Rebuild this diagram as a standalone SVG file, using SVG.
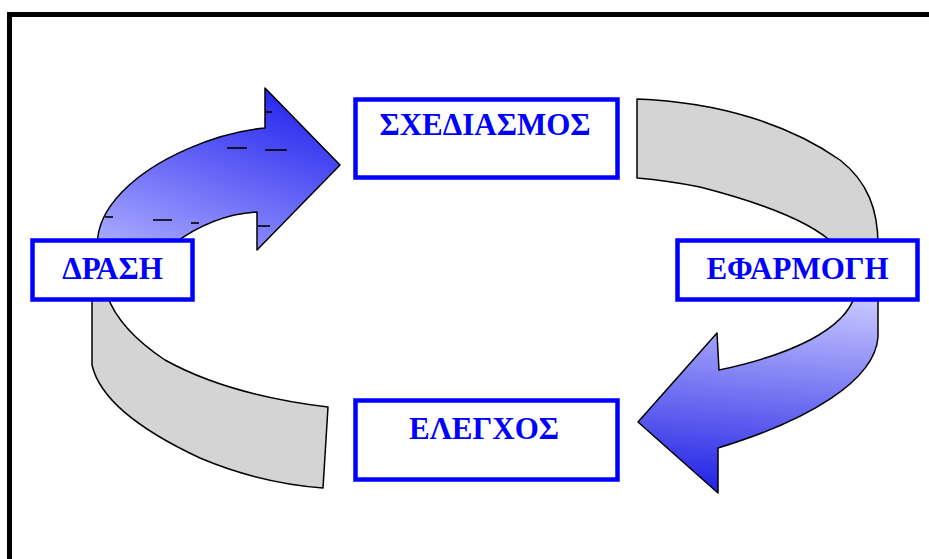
<svg xmlns="http://www.w3.org/2000/svg" width="929" height="559" viewBox="0 0 929 559">
<style>
.box{fill:#fff;stroke:#0000ff;stroke-width:4.5}
.lbl{font-family:"Liberation Serif","Times New Roman",serif;font-weight:bold;font-size:31px;fill:#0000ff;text-anchor:middle}
.shape{stroke:#000;stroke-width:1.5;stroke-linejoin:round}
.gray{fill:#d4d4d4}
.dash{stroke:#000;stroke-width:1.6}
</style>
<defs>
<linearGradient id="gTL" x1="0.75" y1="0" x2="0.2" y2="1">
<stop offset="0" stop-color="#2424ee"/>
<stop offset="1" stop-color="#a4a4ff"/>
</linearGradient>
<linearGradient id="gR" x1="0.5" y1="0" x2="0.4" y2="1">
<stop offset="0" stop-color="#c4c4ff"/>
<stop offset="1" stop-color="#2222e6"/>
</linearGradient>
</defs>
<rect width="929" height="559" fill="#fff"/>
<path d="M9.5,559 L9.5,14.5 L929,14.5" fill="none" stroke="#000" stroke-width="5"/>
<g id="connectors">
<path id="arrow-drasi-schediasmos" class="shape" fill="url(#gTL)" d="M340,165 L265,88 L265,128 C215,133 155,158 122,192 C105,210 98,225 97,245 L172,245 C192,230 222,214 257,212 L257,250 Z"/>
<path id="arc-schediasmos-efarmogi" class="shape gray" d="M637,99 C720,102 790,125 840,160 C868,182 878,210 878,245 L835,245 C815,225 770,205 700,187 C680,183 660,180 637,178 Z"/>
<path id="arrow-efarmogi-elegxos" class="shape" fill="url(#gR)" d="M878,295 L878,337 C875,380 810,420 718,448 L718,493 L638,422 L717,333 L719,370 C790,355 845,330 855,295 Z"/>
<path id="arc-elegxos-drasi" class="shape gray" d="M92,295 L92,365 C100,400 140,430 200,458 C240,475 285,485 323,488 L328,407 C270,400 210,385 165,360 C135,340 115,318 107,295 Z"/>
<g id="artifacts">
<line class="dash" x1="227" y1="148" x2="247" y2="148"/>
<line class="dash" x1="265" y1="150" x2="287" y2="150"/>
<line class="dash" x1="105" y1="217" x2="113" y2="217"/>
<line class="dash" x1="153" y1="220" x2="172" y2="220"/>
<line class="dash" x1="191" y1="223" x2="199" y2="223"/>
<line class="dash" x1="258" y1="226" x2="270" y2="226"/>
<line class="dash" x1="265" y1="112" x2="272" y2="112"/>
</g>
</g>
<g id="node-schediasmos">
<rect class="box" x="355.5" y="99.5" width="262" height="78"/>
<text class="lbl" x="485" y="135">ΣΧΕΔΙΑΣΜΟΣ</text>
</g>
<g id="node-drasi">
<rect class="box" x="32.5" y="240.5" width="160" height="59"/>
<text class="lbl" x="112.5" y="279">ΔΡΑΣΗ</text>
</g>
<g id="node-efarmogi">
<rect class="box" x="677.5" y="240.5" width="240" height="59"/>
<text class="lbl" x="797.5" y="279">ΕΦΑΡΜΟΓΗ</text>
</g>
<g id="node-elegxos">
<rect class="box" x="355.5" y="400.5" width="262" height="79"/>
<text class="lbl" x="484" y="439">ΕΛΕΓΧΟΣ</text>
</g>
</svg>
